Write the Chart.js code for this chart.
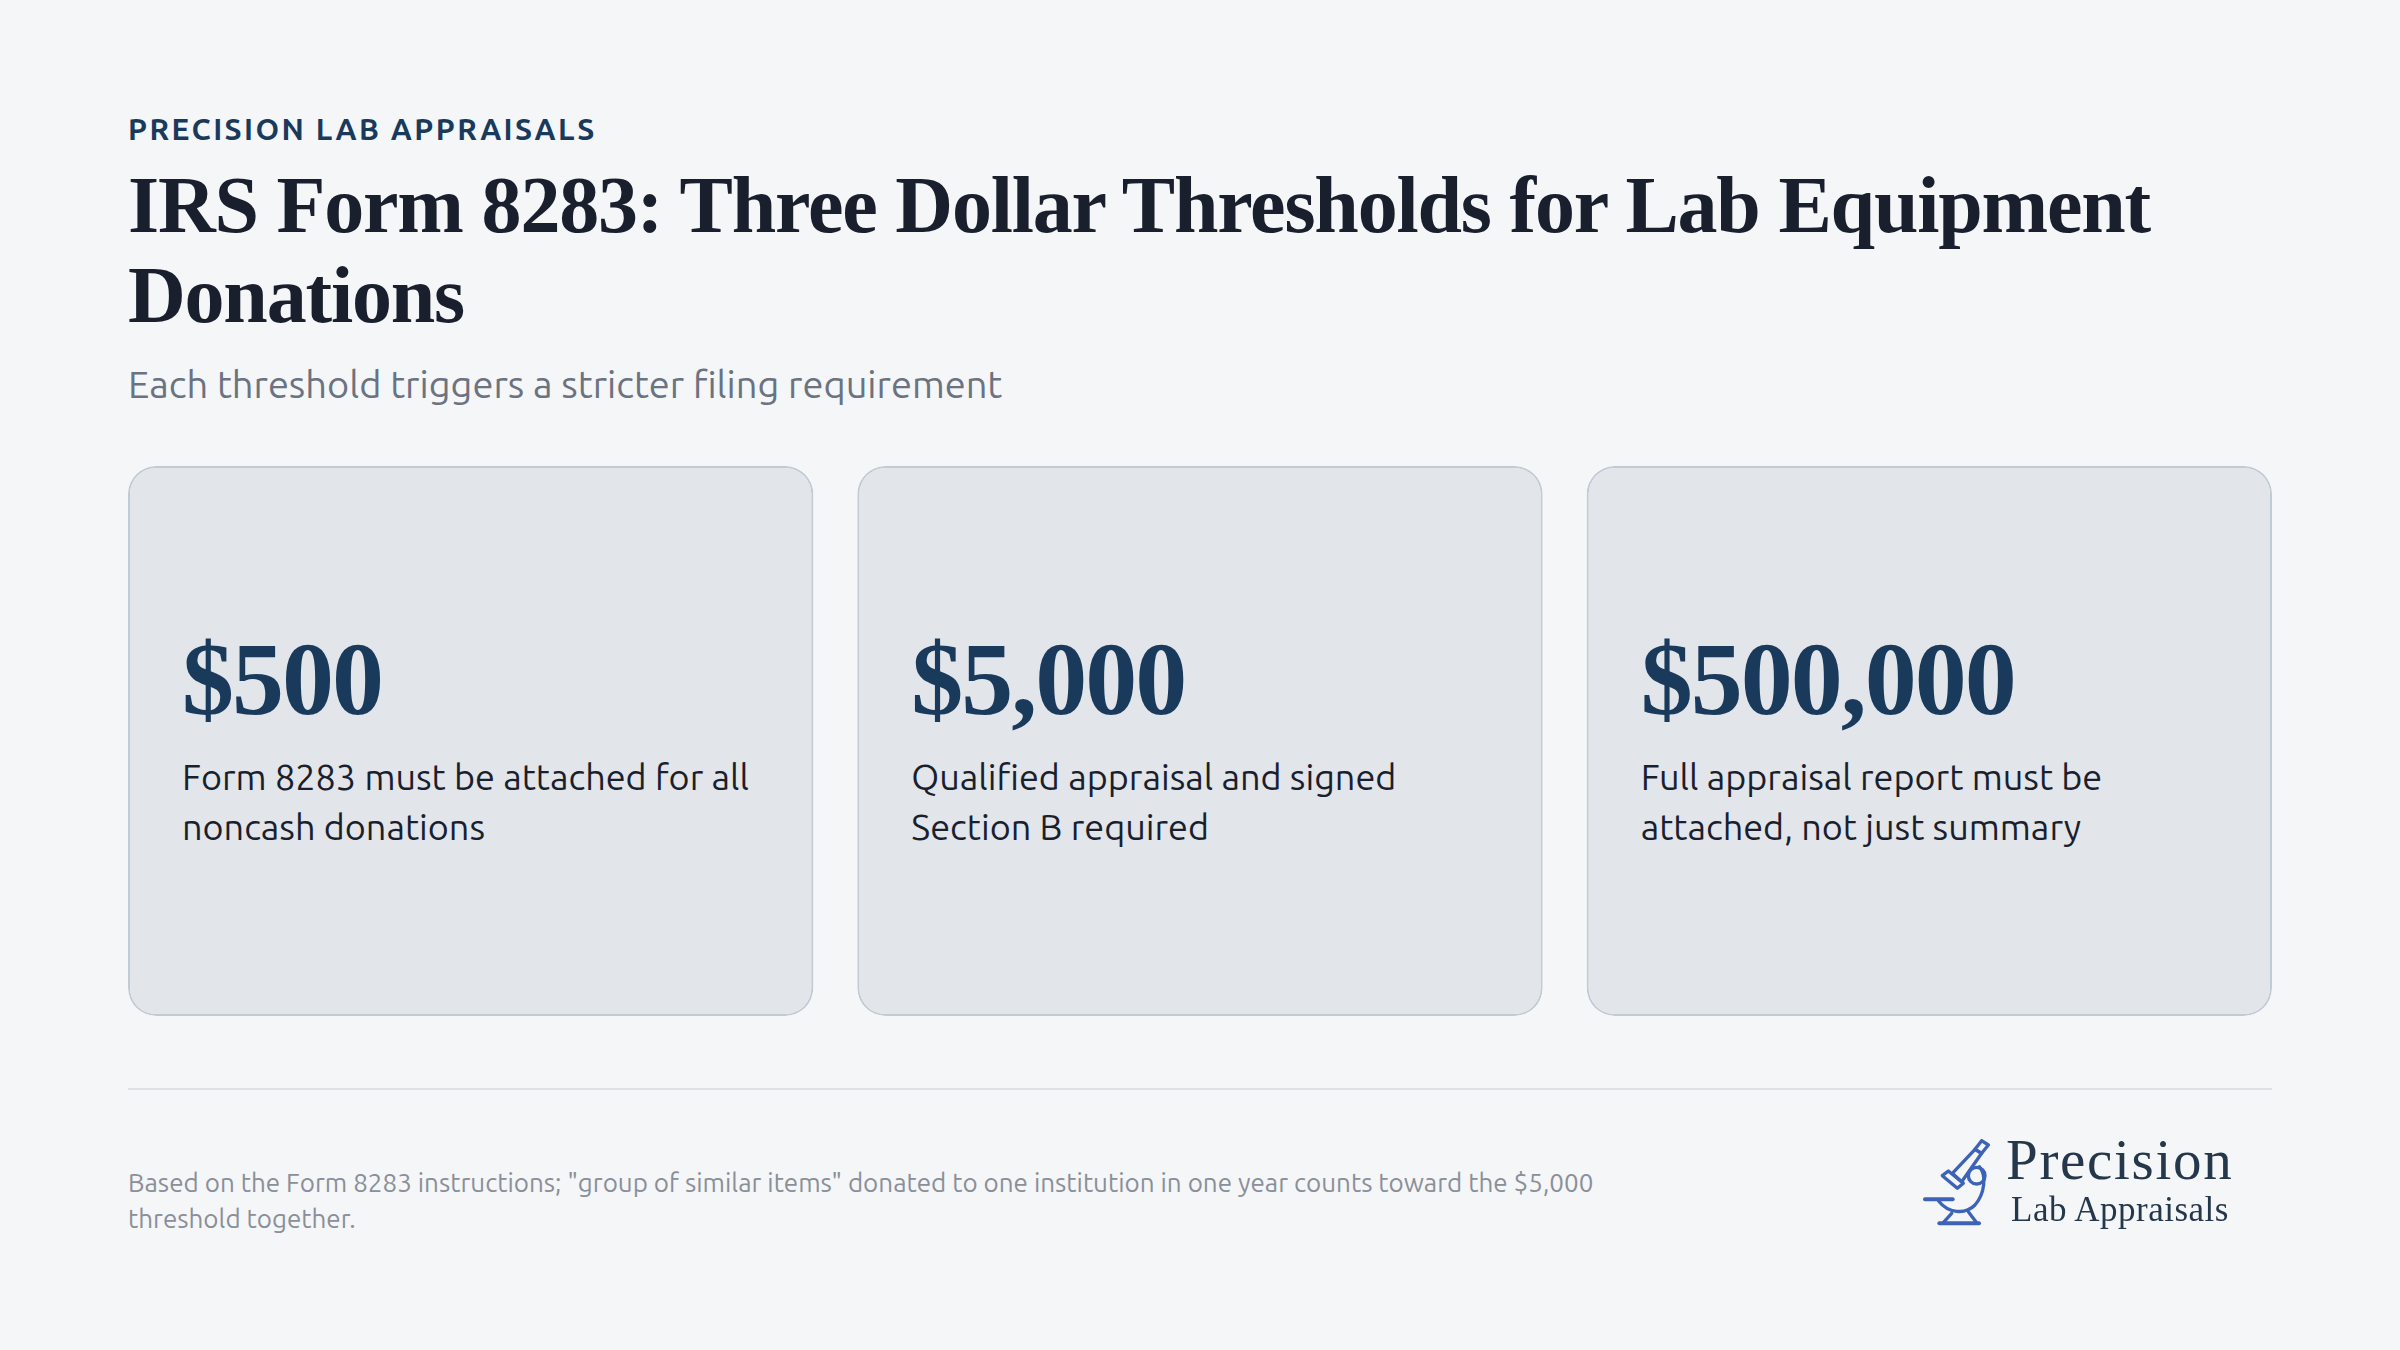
<!DOCTYPE html>
<html lang="en">
<head>
<meta charset="utf-8">
<title>IRS Form 8283 thresholds</title>
<script src="https://cdn.jsdelivr.net/npm/chart.js@4"></script>
<style>
  html, body { margin: 0; padding: 0; }
  body {
    width: 2400px; height: 1350px; overflow: hidden; position: relative;
    background: #f4f6f8; font-family: Ubuntu, system-ui, sans-serif;
  }
  .abs { position: absolute; white-space: nowrap; }
  #eyebrow { left: 128px; top: 110px; font-size: 30px; line-height: 38px; font-weight: 700; letter-spacing: 2.4px; color: #1a3a5c; }
  #title { left: 128px; top: 160px; font-family: "Liberation Serif", serif; font-weight: 700; font-size: 80px; line-height: 90px; letter-spacing: -1.2px; color: #1a1f2e; }
  #subtitle { left: 128px; top: 360px; font-size: 38px; line-height: 48px; font-weight: 400; color: #6b7280; }
  #chartWrap { position: absolute; left: 106px; top: 466px; width: 2188px; height: 550px; }
  #rule { position: absolute; left: 128px; width: 2144px; top: 1088px; height: 2px; background: #dde0e5; }
  #note { left: 128px; top: 1165px; font-size: 26px; line-height: 36px; font-weight: 400; color: #8a8f98; }
  #logoMark { position: absolute; left: 1880px; top: 1110px; filter: blur(0.4px); }
  .logoText { font-family: "Liberation Serif", serif; color: #25374a; filter: blur(0.4px); }
  #logoA { left: 2006px; top: 1128px; font-size: 57px; line-height: 64px; letter-spacing: 1.7px; }
  #logoB { left: 2011px; top: 1190px; font-size: 35px; line-height: 40px; letter-spacing: 0.5px; }
</style>
</head>
<body>
<div class="abs" id="eyebrow">PRECISION LAB APPRAISALS</div>
<div class="abs" id="title">IRS Form 8283: Three Dollar Thresholds for Lab Equipment<br>Donations</div>
<div class="abs" id="subtitle">Each threshold triggers a stricter filing requirement</div>
<div id="chartWrap"><canvas id="cards" width="2188" height="550"></canvas></div>
<div id="rule"></div>
<div class="abs" id="note">Based on the Form 8283 instructions; "group of similar items" donated to one institution in one year counts toward the $5,000<br>threshold together.</div>
<svg id="logoMark" width="400" height="140" viewBox="0 0 1200 420" fill="none" stroke="#3d63b8" stroke-width="10" stroke-linejoin="round" stroke-linecap="round">
  <path d="M305 92L325 105 305 130 285 118z"/>
  <path d="M285 118L305 130 245 215 217 190z"/>
  <path d="M205 183L250 220 232 235 187 197z"/>
  <circle cx="290" cy="197" r="25"/>
  <path d="M298 170C320 195 315 250 285 285 255 315 205 310 175 272"/>
  <path d="M135 268H218" stroke-width="12"/>
  <path d="M215 310L190 338M265 305L290 338"/>
  <path d="M178 340H297" stroke-width="12"/>
</svg>
<div class="abs logoText" id="logoA">Precision</div>
<div class="abs logoText" id="logoB">Lab Appraisals</div>

<script>
// ====== data ======
const thresholds = ["$500", "$5,000", "$500,000"];
const descriptions = [
  ["Form 8283 must be attached for all", "noncash donations"],
  ["Qualified appraisal and signed", "Section B required"],
  ["Full appraisal report must be", "attached, not just summary"],
];
const cardValues = [1, 1, 1];

// ====== opaque canvas so the text gets the same antialiasing as the page ======
const canvas = document.getElementById("cards");
canvas.getContext("2d", { alpha: false });

const pageBackground = {
  id: "pageBackground",
  beforeDraw(chart) {
    chart.ctx.save();
    chart.ctx.fillStyle = "#f4f6f8";
    chart.ctx.fillRect(0, 0, chart.width, chart.height);
    chart.ctx.restore();
  },
};

// ====== card text, hung off the bars ======
const cardText = {
  id: "cardText",
  afterDatasetsDraw(chart) {
    const { ctx } = chart;
    chart.getDatasetMeta(0).data.forEach((bar, i) => {
      const left = bar.x - bar.width / 2 + 54;
      ctx.save();
      ctx.textBaseline = "alphabetic";
      ctx.fillStyle = "#1a3a5c";
      ctx.font = '700 104px "Liberation Serif", serif';
      ctx.letterSpacing = "-2px";
      ctx.fillText(thresholds[i], left, 248);
      ctx.letterSpacing = "0px";
      ctx.fillStyle = "#1a1f2e";
      ctx.font = "400 36px Ubuntu, system-ui, sans-serif";
      descriptions[i].forEach((line, j) => ctx.fillText(line, left, 324 + j * 50));
      ctx.restore();
    });
  },
};

new Chart(canvas, {
  type: "bar",
  data: {
    labels: thresholds,
    datasets: [{
      data: cardValues,
      backgroundColor: "#e2e5ea",
      borderColor: "#c2cad4",
      borderWidth: 2,
      borderSkipped: false,
      borderRadius: 28,
      categoryPercentage: 685.33 / 729.33,
      barPercentage: 1,
    }],
  },
  options: {
    responsive: false,
    animation: false,
    layout: { padding: 0 },
    plugins: { legend: { display: false }, tooltip: { enabled: false } },
    scales: {
      x: { display: false },
      y: { display: false, min: 0, max: 1.0 },
    },
  },
  plugins: [pageBackground, cardText],
});
</script>
</body>
</html>
